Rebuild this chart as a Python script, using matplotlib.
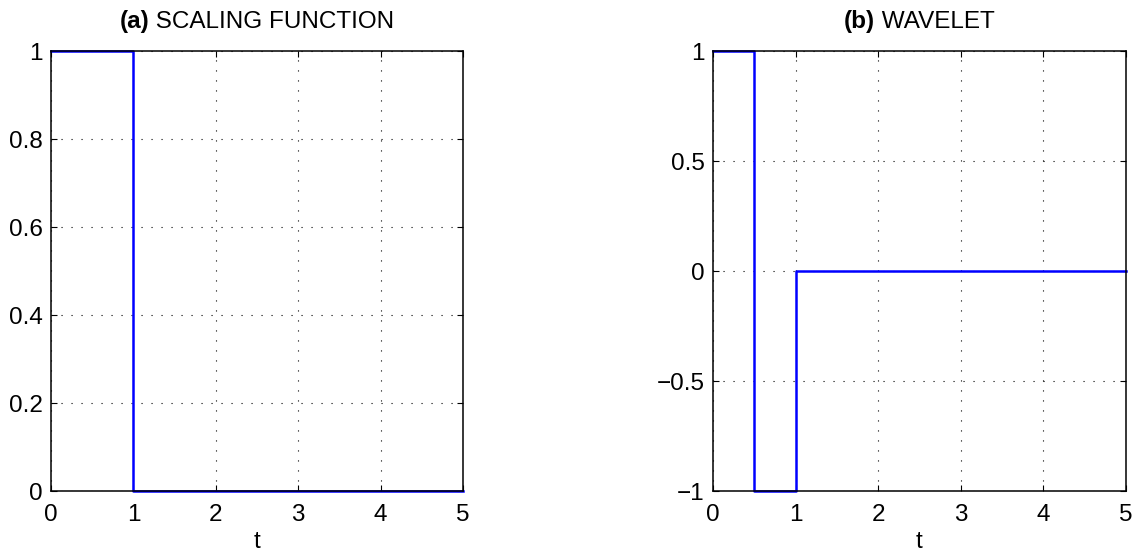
import matplotlib
matplotlib.use("Agg")
import matplotlib.pyplot as plt

plt.rcParams['font.family'] = ['Liberation Sans', 'DejaVu Sans']
plt.rcParams['axes.unicode_minus'] = True

t_scaling = [0, 1, 1, 5]
phi = [1, 1, 0, 0]
t_wavelet = [0, 0.5, 0.5, 1, 1, 5]
psi = [1, 1, -1, -1, 0, 0]
xticks = [0, 1, 2, 3, 4, 5]
yticks_a = [0, 0.2, 0.4, 0.6, 0.8, 1]
yticks_b = [-1, -0.5, 0, 0.5, 1]
ytick_labels_a = ['0', '0.2', '0.4', '0.6', '0.8', '1']
ytick_labels_b = ['\u22121', '\u22120.5', '0', '0.5', '1']
titles_bold = ['(a)', '(b)']
titles_normal = ['SCALING FUNCTION', 'WAVELET']

FS = 17.5
fig = plt.figure(figsize=(11.37, 5.54), dpi=100)
ax1 = fig.add_axes([0.0449, 0.1137, 0.3624, 0.7942])
ax2 = fig.add_axes([0.6271, 0.1137, 0.3632, 0.7942])

def style(ax, yticks, ylabels, ylim):
    ax.set_xlim(0, 5)
    ax.set_ylim(*ylim)
    ax.set_xticks(xticks)
    ax.set_xticklabels([str(v) for v in xticks])
    ax.set_yticks(yticks)
    ax.set_yticklabels(ylabels)
    ax.tick_params(direction='in', top=True, right=True, labelsize=FS,
                   length=4, width=0.8)
    ax.tick_params(axis='x', pad=9)
    ax.tick_params(axis='y', pad=6)
    ax.grid(True, color='black', linestyle=(0, (1, 8)), linewidth=0.8)
    for s in ax.spines.values():
        s.set_linewidth(1.1)
    ax.set_xlabel('t', fontsize=FS, labelpad=4)

ax1.plot(t_scaling, phi, color=(0, 0, 1), linewidth=1.8, clip_on=False)
style(ax1, yticks_a, ytick_labels_a, (0, 1))
ax2.plot(t_wavelet, psi, color=(0, 0, 1), linewidth=1.8, clip_on=False)
style(ax2, yticks_b, ytick_labels_b, (-1, 1))

fig.canvas.draw()
r = fig.canvas.get_renderer()
for ax, b, n in zip([ax1, ax2], titles_bold, titles_normal):
    tb = fig.text(0, 0, b, fontsize=FS, fontweight='bold')
    tn = fig.text(0, 0, ' ' + n, fontsize=FS)
    wb = tb.get_window_extent(r).width
    wn = tn.get_window_extent(r).width
    tb.remove(); tn.remove()
    bbox = ax.get_window_extent(r)
    cx = (bbox.x0 + bbox.x1) / 2
    x0 = cx - (wb + wn) / 2
    y = bbox.y1 + 23
    fig.text(x0 / fig.bbox.width, y / fig.bbox.height, b, fontsize=FS,
             fontweight='bold', va='baseline', ha='left')
    fig.text((x0 + wb) / fig.bbox.width, y / fig.bbox.height, ' ' + n,
             fontsize=FS, va='baseline', ha='left')

fig.savefig('out.png', dpi=100)
